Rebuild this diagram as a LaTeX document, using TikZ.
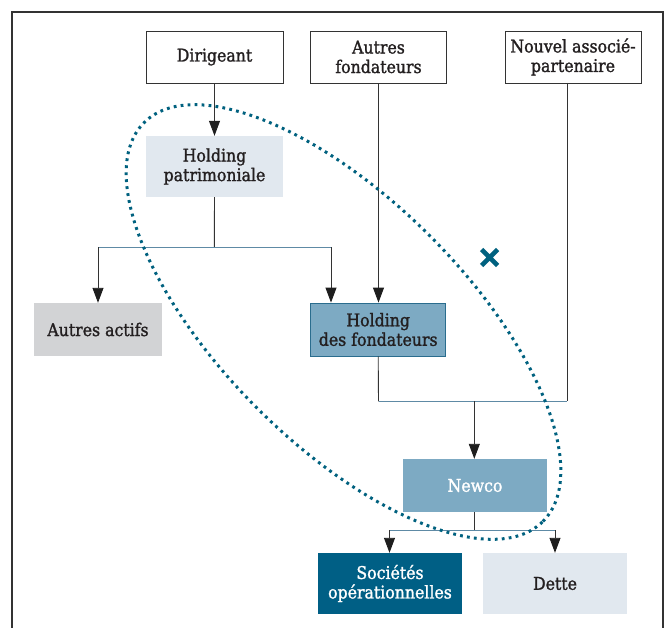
\documentclass[tikz,border=0pt]{standalone}
\usepackage{fontspec}
\setmainfont{DejaVu Serif}[FakeStretch=0.9, FakeBold=1.4]
\usetikzlibrary{arrows.meta}
\definecolor{txt}{HTML}{231F20}
\definecolor{linegrey}{HTML}{333333}
\definecolor{tipcol}{HTML}{1E1E1E}
\definecolor{hlinecol}{HTML}{5E8AA5}
\definecolor{paleblue}{HTML}{E1E8EF}
\definecolor{greybox}{HTML}{D2D3D5}
\definecolor{midblue}{HTML}{7DAAC3}
\definecolor{midborder}{HTML}{2A6D8E}
\definecolor{darkteal}{HTML}{005F85}
\definecolor{dotteal}{HTML}{00617F}
\tikzset{
  box/.style={inner sep=0pt, align=center, text=txt,
    font=\fontsize{17.5}{19.5}\selectfont},
  plainbox/.style={box, draw=linegrey, line width=0.9pt, fill=white},
  conn/.style={draw=linegrey, line width=0.9pt},
  hconn/.style={draw=hlinecol, line width=0.9pt},
  arr/.style={conn, -{Triangle[width=11pt,length=15pt,color=tipcol]}},
}
\begin{document}
\begin{tikzpicture}[x=1pt,y=-1pt]
\useasboundingbox (0,0) rectangle (666,628);
\fill[white] (0,0) rectangle (666,628);
% frame
\draw[linegrey, line width=1.4pt] (12,650) -- (12,12) -- (663,12) -- (663,650);

% nodes
\node[plainbox, minimum width=137pt, minimum height=52pt] (dir) at (214.5,57) {Dirigeant};
\node[plainbox, minimum width=136pt, minimum height=52pt] (autf) at (378.5,57) {Autres\\fondateurs};
\node[plainbox, minimum width=136pt, minimum height=52pt] (nouv) at (573,57) {Nouvel associé-\\partenaire};
\node[box, fill=paleblue, minimum width=137pt, minimum height=61pt] (hp) at (214.5,166.5) {Holding\\patrimoniale};
\node[box, fill=greybox, minimum width=128pt, minimum height=53pt] (aa) at (98,329.5) {Autres actifs};
\node[box, fill=midblue, draw=midborder, line width=0.9pt, minimum width=135pt, minimum height=53pt] (hf) at (378.2,329.5) {Holding\\des fondateurs};
\node[box, fill=midblue, text=white, minimum width=144pt, minimum height=53pt] (newco) at (475,485.5) {Newco};
\node[box, fill=darkteal, text=white, minimum width=144pt, minimum height=61pt] (soc) at (390,583.5) {Sociétés\\opérationnelles};
\node[box, fill=paleblue, minimum width=144pt, minimum height=61pt] (dette) at (555,583.5) {Dette};

% junction coordinates
\coordinate (j1) at (214.3,247.5);
\coordinate (j1l) at (98,247.5);
\coordinate (j1r) at (331,247.5);
\coordinate (nouvout) at (567.3,83);
\coordinate (j2l) at (378.5,401.3);
\coordinate (j2r) at (567.3,401.3);
\coordinate (j2m) at (474.3,401.3);
\coordinate (j3) at (474.3,530);
\coordinate (j3l) at (389.5,530);
\coordinate (j3r) at (555,530);

% connectors
\draw[arr] (dir.south) -- (hp.north);
\draw[conn] (hp.south) -- (j1);
\draw[hconn] (j1l) -- (j1r);
\draw[arr] (j1l) -- (aa.north);
\draw[arr] (j1r) -- (j1r |- hf.north);
\draw[arr] (autf.south) -- (autf.south |- hf.north);
\draw[conn] (hf.south) -- (j2l);
\draw[conn] (nouvout) -- (j2r);
\draw[hconn] (j2l) -- (j2r);
\draw[arr] (j2m) -- (j2m |- newco.north);
\draw[conn] (newco.south -| j3) -- (j3);
\draw[hconn] (j3l) -- (j3r);
\draw[arr] (j3l) -- (j3l |- soc.north);
\draw[arr] (j3r) -- (dette.north);

% dotted ellipse
\draw[dotteal, line width=3pt, dash pattern=on 2.8pt off 4.2pt,
  shift={(343.5,322)}, rotate=-45] (0,0) ellipse [x radius=282pt, y radius=122pt];

% cross
\coordinate (cross) at (489.5,257.5);
\draw[dotteal, line width=4.6pt] ([shift={(-8,-8)}]cross) -- ([shift={(8,8)}]cross)
  ([shift={(-8,8)}]cross) -- ([shift={(8,-8)}]cross);
\end{tikzpicture}
\end{document}
